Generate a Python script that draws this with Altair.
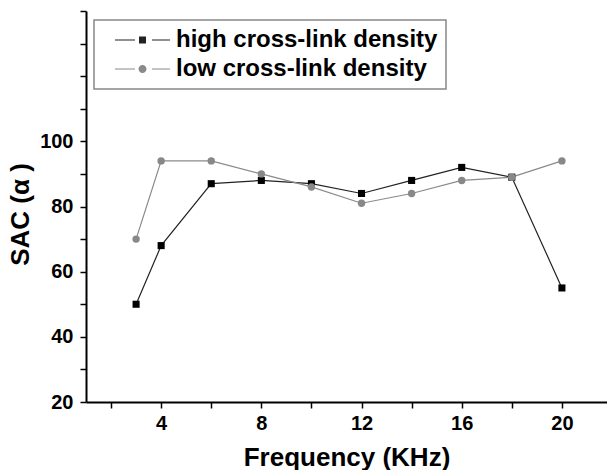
import altair as alt
import pandas as pd

freq = [3, 4, 6, 8, 10, 12, 14, 16, 18, 20]
high = [50, 68, 87, 88, 87, 84, 88, 92, 89, 55]
low = [70, 94, 94, 90, 86, 81, 84, 88, 89, 94]
series_names = ["high cross-link density", "low cross-link density"]
x_ticks = [2, 4, 6, 8, 10, 12, 14, 16, 18, 20]
y_ticks = [20, 30, 40, 50, 60, 70, 80, 90, 100, 110, 120, 130, 140]

rows = []
for f, v in zip(freq, high):
    rows.append({"f": f, "v": v, "series": series_names[0]})
for f, v in zip(freq, low):
    rows.append({"f": f, "v": v, "series": series_names[1]})
df = pd.DataFrame(rows)

FONT = "Liberation Sans"
line_colors = ["#222222", "#8a8a8a"]

# legend glyphs: short line, marker, short line (units of 10 px)
sq_path = ("M0.1,-0.06H2.1V0.06H0.1Z "
           "M2.5,-0.35H3.2V0.35H2.5Z "
           "M3.8,-0.06H5.6V0.06H3.8Z")
ci_path = ("M0.1,-0.06H2.1V0.06H0.1Z "
           "M3.25,0A0.4,0.4,0,1,1,2.45,0A0.4,0.4,0,1,1,3.25,0Z "
           "M3.8,-0.06H5.6V0.06H3.8Z")

xscale = alt.Scale(domain=[1, 21.8], nice=False, zero=False)
yscale = alt.Scale(domain=[20, 140], nice=False, zero=False)

xaxis = alt.Axis(values=x_ticks, labelExpr="datum.value % 4 == 0 ? datum.label : ''",
                 title="Frequency (KHz)", titleY=55, titleX=260.5, titleBaseline="middle",
                 labelFlush=False, labelOverlap=False, labelPadding=5)
yaxis = alt.Axis(values=y_ticks,
                 labelExpr="(datum.value <= 100 && datum.value % 20 == 0) ? datum.label : ''",
                 title="SAC (α )", titleX=-66, titleY=203, titleBaseline="middle",
                 labelFlush=False, labelOverlap=False, labelPadding=7)

x = alt.X("f:Q", scale=xscale, axis=xaxis)
y = alt.Y("v:Q", scale=yscale, axis=yaxis)

color_scale = alt.Scale(domain=series_names, range=line_colors)

legend_layer = alt.Chart(df).mark_point(filled=True, opacity=1, size=1).encode(
    x=x, y=y,
    color=alt.Color("series:N", scale=color_scale,
                    legend=alt.Legend(orient="none", legendX=8, legendY=9, title=None,
                                      strokeColor="#888888", fillColor="white",
                                      padding=8, symbolSize=400, symbolOpacity=1,
                                      symbolStrokeWidth=0,
                                      labelFont=FONT, labelFontSize=24, labelFontWeight="bold",
                                      labelColor="black", labelOffset=50, rowPadding=5,
                                      labelLimit=400)),
    shape=alt.Shape("series:N", scale=alt.Scale(domain=series_names, range=[sq_path, ci_path])),
)

lines = alt.Chart(df).mark_line(strokeWidth=1.2).encode(
    x=x, y=y,
    color=alt.Color("series:N", scale=color_scale, legend=None),
    detail="series:N",
)

pts_high = alt.Chart(df).transform_filter(
    alt.datum.series == series_names[0]
).mark_point(shape="square", filled=True, size=50, opacity=1, color="#000000").encode(x=x, y=y)

pts_low = alt.Chart(df).transform_filter(
    alt.datum.series == series_names[1]
).mark_point(shape="circle", filled=True, size=55, opacity=1, color="#888888").encode(x=x, y=y)

chart = alt.layer(legend_layer, lines, pts_high, pts_low).properties(
    width=521, height=391,
    autosize=alt.AutoSizeParams(type="none"),
    padding={"left": 86, "top": 11, "right": 0, "bottom": 68},
).configure_view(stroke=None).configure_axis(
    grid=False, domainColor="black", domainWidth=2, tickColor="black", tickWidth=1.5,
    tickSize=6, labelFont=FONT, labelFontSize=20, labelFontWeight="bold", labelColor="black",
    titleFont=FONT, titleFontSize=26, titleFontWeight="bold", titleColor="black",
).configure_legend(strokeWidth=1.5)

chart.save("out.html", embed_options={"renderer": "svg", "actions": False})
